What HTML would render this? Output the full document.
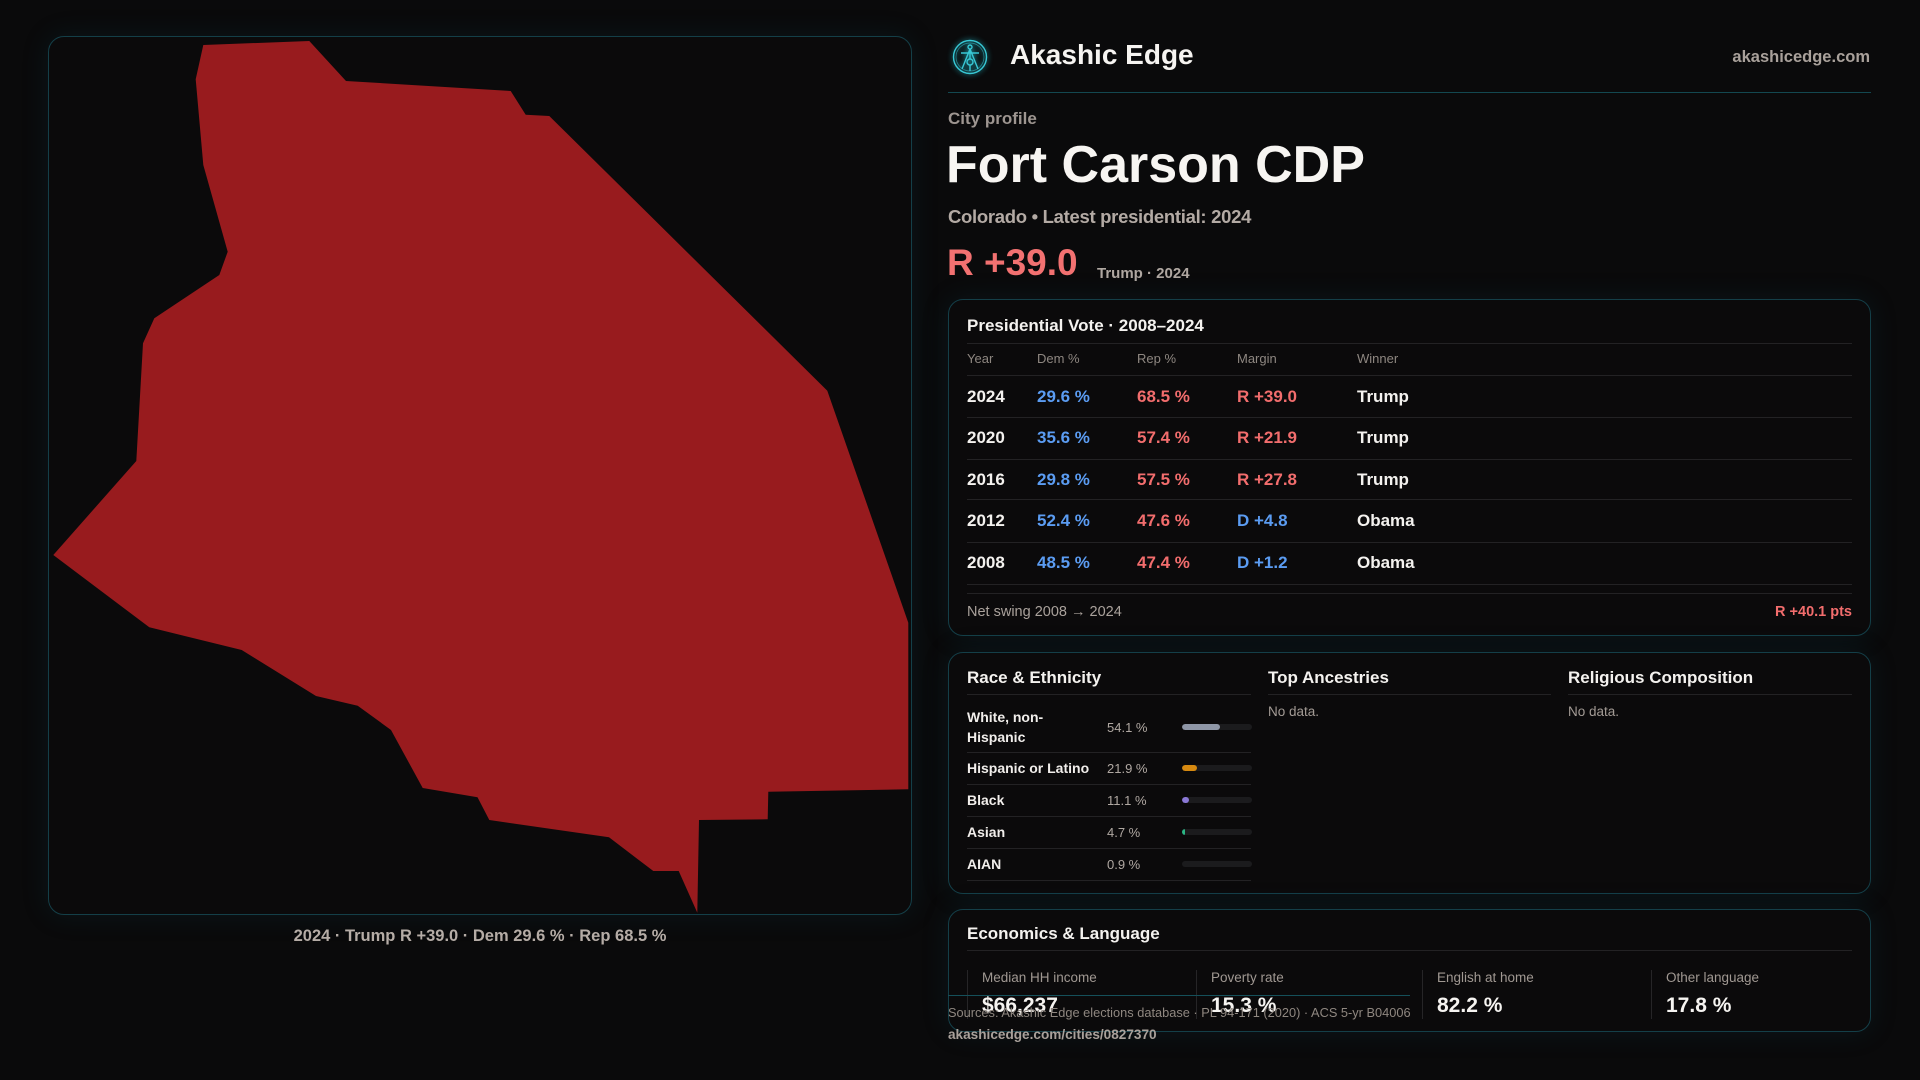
<!DOCTYPE html>
<html><head><meta charset="utf-8">
<style>
*{margin:0;padding:0;box-sizing:border-box}
html,body{width:1920px;height:1080px;background:#0a0a0b;overflow:hidden}
body{position:relative;font-family:"Liberation Sans",sans-serif;color:#f4f2ef}
.a{position:absolute;white-space:nowrap;line-height:1}
.card{position:absolute;border:1px solid #143f48;border-radius:15px;background:#0b0a0b;box-shadow:0 0 28px rgba(18,90,105,.16)}
.hl{position:absolute;height:1px;background:#232224}
.vl{position:absolute;width:1px;background:#262527}
.g{color:#a89f99}
.hd{color:#8e8781;font-size:13px}
.b{font-weight:bold}
.blue{color:#5b9cf2}
.red{color:#f26d6d}
.row{font-size:17px;font-weight:bold}
.bar{position:absolute;left:1182px;width:70px;height:6px;border-radius:3px;background:#1b1b1d;overflow:hidden}
.bar i{position:absolute;left:0;top:0;height:6px;border-radius:3px;display:block}
.rl{font-size:14px;font-weight:bold;color:#f1eeeb}
.rp{font-size:13px;color:#b0a8a2}
.sl{font-size:13.5px;color:#a09892}
.sv{font-size:21px;font-weight:bold;color:#f6f4f1}
</style></head>
<body>

<!-- Map panel -->
<div class="card" style="left:48px;top:36px;width:864px;height:879px;border-radius:16px;"></div>
<svg style="position:absolute;left:0;top:0" width="1920" height="1080" viewBox="0 0 1920 1080">
<polygon fill="#981b1e" points="203.3,45 309.3,41 346,81 510.7,91 525.7,114.7 549.3,116 827.3,390.7 908.3,622.7 908.3,789.3 768.3,791.7 767.7,819.3 699,820 697.3,912.7 678.7,871 653.3,871 609,837.3 489.3,820 477.5,797.3 422.7,788 391,730 357.7,705.7 316,696 241.7,650 149.3,627.3 53.3,555 136.3,461 143,343.3 154.3,318.3 219.3,275 227.7,251.7 203.3,165 195.7,79.3"/>
</svg>
<div class="a b" style="left:48px;width:864px;text-align:center;top:928px;font-size:16.5px;color:#b5aca6;">2024 · Trump R +39.0 · Dem 29.6 % · Rep 68.5 %</div>

<!-- Header -->
<svg style="position:absolute;left:951px;top:38px;filter:drop-shadow(0 0 3px #1fb5c4)" width="38" height="38" viewBox="0 0 38 38">
<g fill="none" stroke="#38c8d5" stroke-width="1.4">
<circle cx="19" cy="19" r="16.5"/>
<circle cx="19" cy="19" r="14" stroke-width="0.7" opacity=".6"/>
<circle cx="19" cy="9" r="2"/>
<path d="M19 11 L11 31 M19 11 L27 31 M10 15 L28 15 M19 11 L19 21"/>
<circle cx="19" cy="24" r="3"/>
<path d="M19 27 L19 33"/>
</g>
</svg>
<div class="a b" style="left:1010px;top:41.3px;font-size:28px;color:#f6f4f1;">Akashic Edge</div>
<div class="a b" style="right:50px;top:48.7px;font-size:16.5px;color:#a9a19b;">akashicedge.com</div>
<div class="hl" style="left:948px;top:92px;width:923px;background:#134850;"></div>

<div class="a b g" style="left:948px;top:109.6px;font-size:17px;color:#9d9590;">City profile</div>
<div class="a b" style="left:946px;top:139.3px;font-size:52px;color:#f7f5f2;">Fort Carson CDP</div>
<div class="a b" style="left:948px;top:208.3px;font-size:18.5px;color:#b3aaa4;letter-spacing:-0.3px;">Colorado • Latest presidential: 2024</div>
<div class="a b red" style="left:947px;top:244.4px;font-size:37px;color:#f27171;">R +39.0</div>
<div class="a b" style="left:1097px;top:266.3px;font-size:15px;color:#b0a8a2;">Trump · 2024</div>

<!-- Presidential vote card -->
<div class="card" style="left:948px;top:299px;width:923px;height:337px;"></div>
<div class="a b" style="left:967px;top:316.6px;font-size:17px;">Presidential Vote · 2008–2024</div>
<div class="hl" style="left:967px;top:343px;width:885px;"></div>
<div class="a hd" style="left:967px;top:352px;">Year</div>
<div class="a hd" style="left:1037px;top:352px;">Dem %</div>
<div class="a hd" style="left:1137px;top:352px;">Rep %</div>
<div class="a hd" style="left:1237px;top:352px;">Margin</div>
<div class="a hd" style="left:1357px;top:352px;">Winner</div>
<div class="hl" style="left:967px;top:375px;width:885px;"></div>

<div class="a row" style="left:967px;top:387.7px;">2024</div>
<div class="a row blue" style="left:1037px;top:387.7px;">29.6 %</div>
<div class="a row red" style="left:1137px;top:387.7px;">68.5 %</div>
<div class="a row red" style="left:1237px;top:387.7px;">R +39.0</div>
<div class="a row" style="left:1357px;top:387.7px;">Trump</div>
<div class="hl" style="left:967px;top:417px;width:885px;"></div>

<div class="a row" style="left:967px;top:429.4px;">2020</div>
<div class="a row blue" style="left:1037px;top:429.4px;">35.6 %</div>
<div class="a row red" style="left:1137px;top:429.4px;">57.4 %</div>
<div class="a row red" style="left:1237px;top:429.4px;">R +21.9</div>
<div class="a row" style="left:1357px;top:429.4px;">Trump</div>
<div class="hl" style="left:967px;top:459px;width:885px;"></div>

<div class="a row" style="left:967px;top:470.7px;">2016</div>
<div class="a row blue" style="left:1037px;top:470.7px;">29.8 %</div>
<div class="a row red" style="left:1137px;top:470.7px;">57.5 %</div>
<div class="a row red" style="left:1237px;top:470.7px;">R +27.8</div>
<div class="a row" style="left:1357px;top:470.7px;">Trump</div>
<div class="hl" style="left:967px;top:499px;width:885px;"></div>

<div class="a row" style="left:967px;top:512.4px;">2012</div>
<div class="a row blue" style="left:1037px;top:512.4px;">52.4 %</div>
<div class="a row red" style="left:1137px;top:512.4px;">47.6 %</div>
<div class="a row blue" style="left:1237px;top:512.4px;">D +4.8</div>
<div class="a row" style="left:1357px;top:512.4px;">Obama</div>
<div class="hl" style="left:967px;top:542px;width:885px;"></div>

<div class="a row" style="left:967px;top:554.4px;">2008</div>
<div class="a row blue" style="left:1037px;top:554.4px;">48.5 %</div>
<div class="a row red" style="left:1137px;top:554.4px;">47.4 %</div>
<div class="a row blue" style="left:1237px;top:554.4px;">D +1.2</div>
<div class="a row" style="left:1357px;top:554.4px;">Obama</div>
<div class="hl" style="left:967px;top:584px;width:885px;"></div>
<div class="hl" style="left:967px;top:593px;width:885px;"></div>

<div class="a" style="left:967px;top:604.9px;font-size:14.5px;color:#aaa29c;">Net swing 2008 → 2024</div>
<div class="a b red" style="right:68px;top:604.9px;font-size:14.5px;">R +40.1 pts</div>

<!-- Race / Ancestry / Religion card -->
<div class="card" style="left:948px;top:652px;width:923px;height:242px;"></div>
<div class="a b" style="left:967px;top:668.6px;font-size:17px;">Race &amp; Ethnicity</div>
<div class="a b" style="left:1268px;top:668.6px;font-size:17px;">Top Ancestries</div>
<div class="a b" style="left:1568px;top:668.6px;font-size:17px;">Religious Composition</div>
<div class="hl" style="left:967px;top:694px;width:284px;"></div>
<div class="hl" style="left:1268px;top:694px;width:283px;"></div>
<div class="hl" style="left:1568px;top:694px;width:284px;"></div>
<div class="a" style="left:1268px;top:705.4px;font-size:13.5px;color:#a39b95;">No data.</div>
<div class="a" style="left:1568px;top:705.4px;font-size:13.5px;color:#a39b95;">No data.</div>

<div class="a rl" style="left:967px;top:707px;line-height:20px;white-space:normal;width:120px;">White, non-Hispanic</div>
<div class="a rp" style="left:1107px;top:720.5px;">54.1 %</div>
<div class="bar" style="top:724px;"><i style="width:38px;background:#8e96a6;"></i></div>
<div class="hl" style="left:967px;top:752px;width:284px;"></div>

<div class="a rl" style="left:967px;top:761px;">Hispanic or Latino</div>
<div class="a rp" style="left:1107px;top:761.5px;">21.9 %</div>
<div class="bar" style="top:765px;"><i style="width:15px;background:#d68910;"></i></div>
<div class="hl" style="left:967px;top:784px;width:284px;"></div>

<div class="a rl" style="left:967px;top:793px;">Black</div>
<div class="a rp" style="left:1107px;top:793.5px;">11.1 %</div>
<div class="bar" style="top:797px;"><i style="width:7px;background:#8a78d6;"></i></div>
<div class="hl" style="left:967px;top:816px;width:284px;"></div>

<div class="a rl" style="left:967px;top:825px;">Asian</div>
<div class="a rp" style="left:1107px;top:825.5px;">4.7 %</div>
<div class="bar" style="top:829px;"><i style="width:3px;border-radius:1px;background:#2bb584;"></i></div>
<div class="hl" style="left:967px;top:848px;width:284px;"></div>

<div class="a rl" style="left:967px;top:857px;">AIAN</div>
<div class="a rp" style="left:1107px;top:857.5px;">0.9 %</div>
<div class="bar" style="top:861px;"></div>
<div class="hl" style="left:967px;top:880px;width:284px;"></div>

<!-- Economics card -->
<div class="card" style="left:948px;top:909px;width:923px;height:123px;"></div>
<div class="a b" style="left:967px;top:924.5px;font-size:17px;">Economics &amp; Language</div>
<div class="hl" style="left:967px;top:950px;width:885px;"></div>
<div class="vl" style="left:967px;top:970px;height:49px;"></div>
<div class="vl" style="left:1196px;top:970px;height:49px;"></div>
<div class="vl" style="left:1422px;top:970px;height:49px;"></div>
<div class="vl" style="left:1651px;top:970px;height:49px;"></div>
<div class="a sl" style="left:982px;top:971px;">Median HH income</div>
<div class="a sl" style="left:1211px;top:971px;">Poverty rate</div>
<div class="a sl" style="left:1437px;top:971px;">English at home</div>
<div class="a sl" style="left:1666px;top:971px;">Other language</div>
<div class="a sv" style="left:982px;top:994.5px;">$66,237</div>
<div class="a sv" style="left:1211px;top:994.5px;">15.3 %</div>
<div class="a sv" style="left:1437px;top:994.5px;">82.2 %</div>
<div class="a sv" style="left:1666px;top:994.5px;">17.8 %</div>

<!-- Footer (overlapping) -->
<div class="hl" style="left:948px;top:995px;width:462px;background:#15505a;z-index:5;"></div>
<div class="a" style="left:948px;top:1006.6px;font-size:12.8px;color:#8f8780;z-index:5;">Sources: Akashic Edge elections database · PL 94-171 (2020) · ACS 5-yr B04006</div>
<div class="a b" style="left:948px;top:1028.2px;font-size:13.6px;color:#a9a19b;z-index:5;">akashicedge.com/cities/0827370</div>

</body></html>
